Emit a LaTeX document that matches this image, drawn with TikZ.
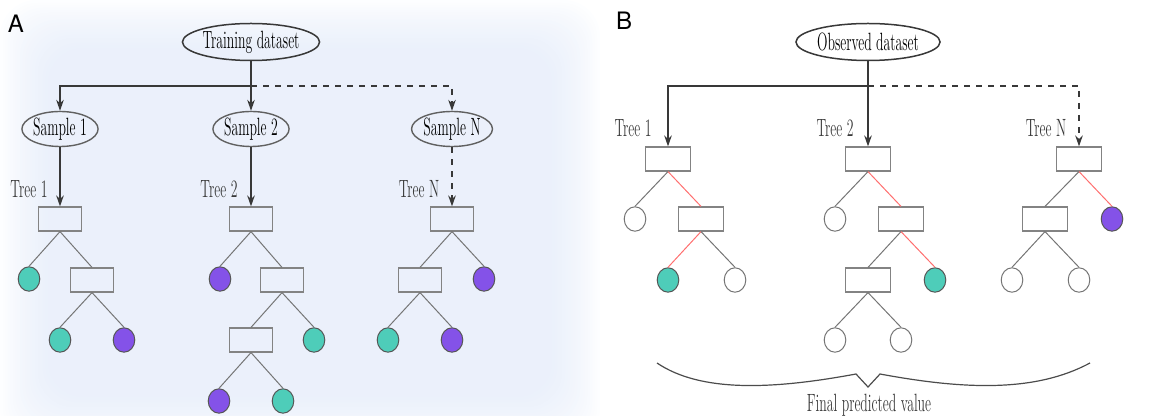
\documentclass[tikz,border=0pt]{standalone}
\usepackage{fontspec}
\usepackage{graphicx}
\newfontfamily\heros{TeX Gyre Heros}
\usetikzlibrary{shapes.geometric,arrows.meta}
\definecolor{tealc}{HTML}{4ECDB9}
\definecolor{purpc}{HTML}{8452E8}
\definecolor{bgblue}{HTML}{DCE6F8}
\definecolor{redl}{HTML}{FF6F6F}
\definecolor{edgeg}{HTML}{757575}
\definecolor{darkl}{HTML}{383838}
\newcommand\hw[1]{\scalebox{0.55}[1]{\fontsize{12.5}{14}\selectfont\addfontfeatures{FakeBold=0.7}#1}}
\begin{document}
\begin{tikzpicture}[x=0.5pt,y=-0.5pt,
  panellab/.style={font=\heros\fontsize{12}{14}\selectfont, inner sep=0pt},
  dataset/.style={ellipse, draw=darkl, line width=0.75pt, minimum height=18.5pt, inner sep=0pt},
  sample/.style={ellipse, draw=darkl!80, line width=0.7pt, minimum width=37pt, minimum height=17.5pt, inner sep=0pt},
  treebox/.style={rectangle, draw=edgeg!90, line width=0.6pt, minimum width=21.5pt, minimum height=12pt, inner sep=0pt},
  leaf/.style={ellipse, draw=darkl!85, line width=0.5pt, minimum width=10.8pt, minimum height=12.2pt, inner sep=0pt},
  tleaf/.style={leaf, fill=tealc},
  pleaf/.style={leaf, fill=purpc},
  wleaf/.style={leaf, draw=edgeg, fill=white},
  treelab/.style={inner sep=0pt, text=darkl},
  conn/.style={draw=darkl, line width=0.65pt},
  arr/.style={conn, -{Stealth[length=5.5pt,width=3.8pt]}},
  edge/.style={draw=edgeg, line width=0.5pt},
  redge/.style={draw=redl, line width=0.5pt},
  brace/.style={draw=darkl!90, line width=0.6pt}
]
\useasboundingbox (0,0) rectangle (1172,416);
% background of panel A
\foreach \i in {0,...,19}{
  \fill[bgblue, opacity=0.045, rounded corners=18pt] (2.5*\i,2.5*\i) rectangle (600-2.5*\i,445-2.5*\i);
}

% ---------------- Panel A ----------------
\node[panellab] (labA) at (16,24) {A};
\node[dataset, minimum width=61pt] (td) at (251,42) {\hw{Training dataset}};
\coordinate (jA) at (251,86);
\node[sample] (s1) at (60,129) {\hw{Sample 1}};
\node[sample] (s2) at (251,129) {\hw{Sample 2}};
\node[sample] (sN) at (452,129) {\hw{Sample N}};
\draw[conn] (td) -- (jA);
\draw[arr] (jA) -| (s1);
\draw[arr] (jA) -- (s2);
\draw[arr, dashed] (jA) -| (sN);

\node[treelab] (ta1) at (29,189) {\hw{Tree 1}};
\node[treelab] (ta2) at (219,189) {\hw{Tree 2}};
\node[treelab] (ta3) at (419,189) {\hw{Tree N}};

% tree 1
\node[treebox] (a1) at (60,219) {};
\node[tleaf] (c1) at (29,279) {};
\node[treebox] (b1) at (92,280) {};
\node[tleaf] (c2) at (60,340) {};
\node[pleaf] (c3) at (124,340) {};
\draw[arr] (s1) -- (a1);
\draw[edge] (a1.south) -- (c1.north);
\draw[edge] (a1.south) -- (b1.north);
\draw[edge] (b1.south) -- (c2.north);
\draw[edge] (b1.south) -- (c3.north);

% tree 2
\node[treebox] (a2) at (251,219) {};
\node[pleaf] (d1) at (220,279) {};
\node[treebox] (d2) at (282,280) {};
\node[treebox] (d3) at (251,340) {};
\node[tleaf] (d4) at (314,340) {};
\node[pleaf] (d5) at (219,401) {};
\node[tleaf] (d6) at (283,401) {};
\draw[arr] (s2) -- (a2);
\draw[edge] (a2.south) -- (d1.north);
\draw[edge] (a2.south) -- (d2.north);
\draw[edge] (d2.south) -- (d3.north);
\draw[edge] (d2.south) -- (d4.north);
\draw[edge] (d3.south) -- (d5.north);
\draw[edge] (d3.south) -- (d6.north);

% tree N
\node[treebox] (a3) at (452,219) {};
\node[treebox] (e1) at (420,280) {};
\node[pleaf] (e2) at (484,279) {};
\node[tleaf] (e3) at (388,340) {};
\node[pleaf] (e4) at (452,340) {};
\draw[arr, dashed] (sN) -- (a3);
\draw[edge] (a3.south) -- (e1.north);
\draw[edge] (a3.south) -- (e2.north);
\draw[edge] (e1.south) -- (e3.north);
\draw[edge] (e1.south) -- (e4.north);

% ---------------- Panel B ----------------
\node[panellab] (labB) at (624,21) {B};
\node[dataset, minimum width=67pt] (od) at (868,42) {\hw{Observed dataset}};
\coordinate (jB) at (868,86);

\node[treelab] (tb1) at (633,128) {\hw{Tree 1}};
\node[treelab] (tb2) at (835,128) {\hw{Tree 2}};
\node[treelab] (tb3) at (1046,128) {\hw{Tree N}};

\node[treebox, minimum width=22.5pt] (f) at (668,159) {};
\node[treebox, minimum width=22.5pt] (g) at (868,159) {};
\node[treebox, minimum width=22.5pt] (h) at (1079,159) {};
\draw[conn] (od) -- (jB);
\draw[arr] (jB) -| (f);
\draw[arr] (jB) -- (g);
\draw[arr, dashed] (jB) -| (h);

% tree 1
\node[wleaf] (f1) at (635,219) {};
\node[treebox, minimum width=22.5pt] (f2) at (701,219) {};
\node[tleaf] (f3) at (668,280) {};
\node[wleaf] (f4) at (735,280) {};
\draw[edge] (f.south) -- (f1.north);
\draw[redge] (f.south) -- (f2.north);
\draw[redge] (f2.south) -- (f3.north);
\draw[edge] (f2.south) -- (f4.north);

% tree 2
\node[wleaf] (g1) at (835,219) {};
\node[treebox, minimum width=22.5pt] (g2) at (901,219) {};
\node[treebox, minimum width=22.5pt] (g3) at (868,280) {};
\node[tleaf] (g4) at (935,280) {};
\node[wleaf] (g5) at (835,340) {};
\node[wleaf] (g6) at (901,340) {};
\draw[edge] (g.south) -- (g1.north);
\draw[redge] (g.south) -- (g2.north);
\draw[edge] (g2.south) -- (g3.north);
\draw[redge] (g2.south) -- (g4.north);
\draw[edge] (g3.south) -- (g5.north);
\draw[edge] (g3.south) -- (g6.north);

% tree N
\node[treebox, minimum width=22.5pt] (h1) at (1045,219) {};
\node[pleaf] (h2) at (1112,219) {};
\node[wleaf] (h3) at (1012,280) {};
\node[wleaf] (h4) at (1079,280) {};
\draw[edge] (h.south) -- (h1.north);
\draw[redge] (h.south) -- (h2.north);
\draw[edge] (h1.south) -- (h3.north);
\draw[edge] (h1.south) -- (h4.north);

% brace
\draw[brace] (657,363) .. controls (700,392) and (770,390) .. (856,374) -- (868,387) -- (880,374) .. controls (966,390) and (1036,392) .. (1090,363);
\node[treelab] (fpv) at (869,405) {\hw{Final predicted value}};
\end{tikzpicture}
\end{document}
